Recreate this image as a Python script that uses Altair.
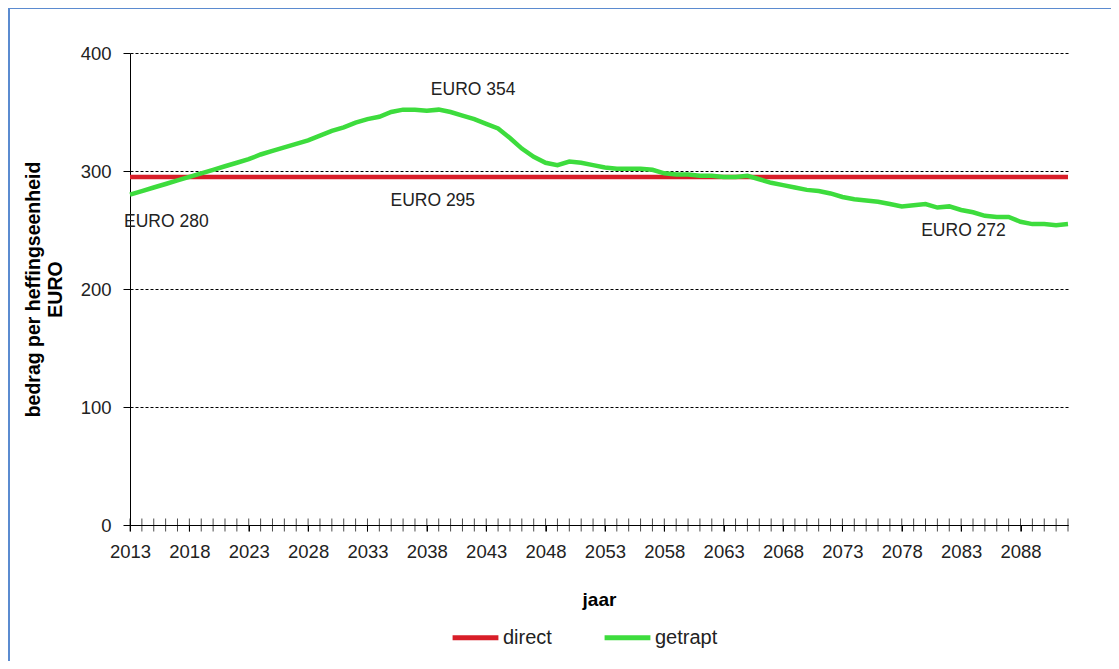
import altair as alt
import pandas as pd

years = list(range(2013, 2093))
getrapt = [
    280, 283, 286, 289, 292, 295, 298, 301, 304, 307,
    310, 314, 317, 320, 323, 326, 330, 334, 337, 341,
    344, 346, 350, 352, 352, 351, 352, 350, 347, 344,
    340, 336, 328, 319, 312, 307, 305, 308, 307, 305,
    303, 302, 302, 302, 301, 298, 297, 297, 296, 296,
    295, 295, 296, 293, 290, 288, 286, 284, 283, 281,
    278, 276, 275, 274, 272, 270, 271, 272, 269, 270,
    267, 265, 262, 261, 261, 257, 255, 255, 254, 255,
]
direct = [295] * len(years)

series_names = ["direct", "getrapt"]
series_colors = ["#d81e28", "#3ddc3d"]

label_years = list(range(2013, 2093, 5))
y_ticks = [0, 100, 200, 300, 400]

ann_text = ["EURO 280", "EURO 295", "EURO 354", "EURO 272"]
ann_year = [2012.5, 2038.5, 2041.9, 2083.2]
ann_value = [256.5, 275, 368.5, 249]
ann_align = ["left", "center", "center", "center"]

df = pd.DataFrame({
    "jaar": years * 2,
    "bedrag": direct + getrapt,
    "serie": ["direct"] * len(years) + ["getrapt"] * len(years),
})
ticks_df = pd.DataFrame({"jaar": years, "nul": [0] * len(years)})
ann_df = pd.DataFrame({"t": ann_text, "jaar": ann_year, "bedrag": ann_value, "al": ann_align})

FONT = "Liberation Sans"

xscale = alt.Scale(domain=[2013, 2092], nice=False, zero=False)
yscale = alt.Scale(domain=[0, 400], nice=False)

lines = alt.Chart(df).mark_line(strokeWidth=4.5).encode(
    x=alt.X("jaar:Q", scale=xscale,
            axis=alt.Axis(values=label_years, format="d", labelOverlap=False, labelFlush=False,
                          labelBound=False, tickSize=6, tickColor="black",
                          domainColor="black", grid=False, labelFont=FONT, labelFontSize=18.5,
                          labelColor="#222", labelPadding=11, title="jaar", titleFont=FONT,
                          titleFontSize=19, titleFontWeight="bold", titleColor="black", titlePadding=30)),
    y=alt.Y("bedrag:Q", scale=yscale,
            axis=alt.Axis(values=y_ticks, tickSize=7, tickColor="black", domainColor="black",
                          grid=True, gridColor="black", gridDash=[3, 2], gridWidth=1,
                          labelFont=FONT, labelFontSize=18.5, labelColor="#222", labelPadding=12,
                          title=["bedrag per heffingseenheid", "EURO"], titleFont=FONT,
                          titleFontSize=19.5, titleFontWeight="bold", titleColor="black",
                          titleAngle=270, titleBaseline="bottom", titleAlign="center",
                          titleX=-87, titleY=236, titleLineHeight=22)),
    color=alt.Color("serie:N", scale=alt.Scale(domain=series_names, range=series_colors),
                    legend=alt.Legend(title=None, orient="none", direction="horizontal",
                                      legendX=320, legendY=559, symbolType="stroke",
                                      symbolSize=2100, symbolStrokeWidth=5, labelFont=FONT,
                                      labelFontSize=20, labelColor="#222", labelOffset=2,
                                      columnPadding=42)),
    order=alt.Order("serie:N"),
)

crossticks = alt.Chart(ticks_df).mark_tick(orient="vertical", size=13, thickness=1, color="black").encode(
    x=alt.X("jaar:Q", scale=xscale),
    y=alt.Y("nul:Q", scale=yscale),
)

texts_left = alt.Chart(ann_df).transform_filter(alt.datum.al == "left").mark_text(
    font=FONT, fontSize=17.5, color="#222", baseline="middle", align="left").encode(
    x=alt.X("jaar:Q", scale=xscale),
    y=alt.Y("bedrag:Q", scale=yscale),
    text="t:N",
)
texts_center = alt.Chart(ann_df).transform_filter(alt.datum.al == "center").mark_text(
    font=FONT, fontSize=17.5, color="#222", baseline="middle", align="center").encode(
    x=alt.X("jaar:Q", scale=xscale),
    y=alt.Y("bedrag:Q", scale=yscale),
    text="t:N",
)

frame = alt.Chart(ticks_df).mark_rect(filled=False, stroke="#5b8bd0", strokeWidth=2).encode(
    x=alt.value(-121), x2=alt.value(1100), y=alt.value(-45), y2=alt.value(700)
)

chart = alt.layer(lines, crossticks, texts_left, texts_center, frame).properties(
    width=938, height=472,
    autosize=alt.AutoSizeParams(type="none"),
    padding={"left": 122, "top": 45, "right": 43, "bottom": 136},
    background="white",
).configure_view(stroke=None)

chart.save("out.html", embed_options={"renderer": "svg", "actions": False})
